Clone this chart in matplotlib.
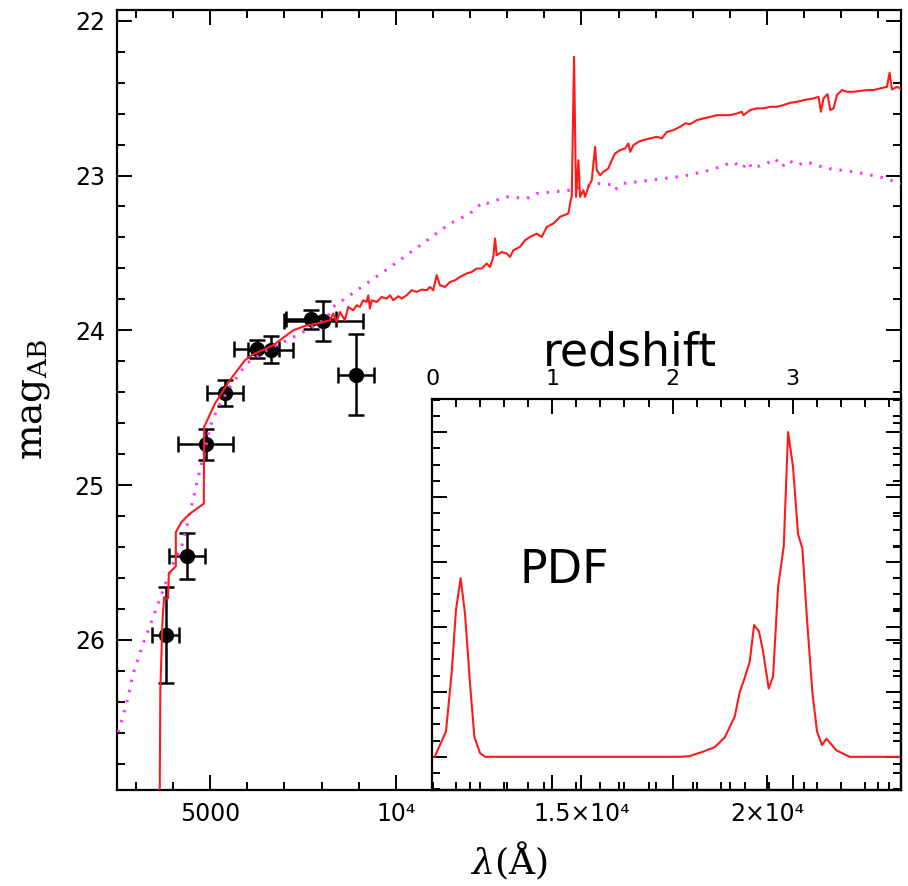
import matplotlib
matplotlib.use("Agg")
import matplotlib.pyplot as plt
from matplotlib.ticker import MultipleLocator, FixedLocator

plt.rcParams['font.family'] = ['DejaVu Sans']
plt.rcParams['mathtext.fontset'] = 'dejavuserif'

# ---------------- data ----------------
# photometric points
phot_lam = [3798, 4364, 4876, 5396, 6250, 6628, 7706, 8045, 8927]
phot_mag = [25.97, 25.46, 24.735, 24.405, 24.12, 24.125, 23.93, 23.94, 24.286]
phot_lam_err = [364, 485, 733, 493, 604, 608, 674, 1062, 480]
phot_mag_err = [0.31, 0.149, 0.10, 0.083, 0.06, 0.085, 0.06, 0.127, 0.26]

# best-fit template (red)
sed1_lam = [3640, 3658, 3717, 3760, 3798, 3868, 3887, 3960, 4076, 4076, 4229, 4453,
            4830, 4838, 5127, 5531, 5935, 6159, 6698, 7237, 7598, 7956, 8226,
            8315, 8406, 8495, 8630, 8719, 8854, 8945, 9034, 9123, 9215, 9258, 9304,
            9350, 9485, 9619, 9754, 9843, 9932, 10067, 10158, 10293, 10428, 10562,
            10697, 10832, 10921, 11010, 11102, 11190, 11325, 11460, 11595, 11729,
            11910, 12045, 12179, 12314, 12449, 12538, 12627, 12673, 12718, 12853,
            12988, 13077, 13166, 13346, 13481, 13616, 13796, 13931, 14066, 14244,
            14424, 14648, 14713, 14739, 14801, 14855, 14918, 14963, 15052, 15098,
            15187, 15279, 15368, 15413, 15502, 15591, 15726, 15818, 15907, 16041,
            16176, 16265, 16311, 16400, 16535, 16669, 16850, 17031, 17165, 17300,
            17478, 17658, 17793, 17928, 18109, 18286, 18467, 18647, 18825, 19006,
            19186, 19321, 19364, 19544, 19725, 19903, 20084, 20264, 20442, 20623,
            20803, 20981, 21251, 21386, 21450, 21520, 21628, 21701, 21790, 21882,
            22016, 22151, 22329, 22510, 22690, 22868, 23048, 23229, 23299, 23364,
            23498, 23633]
sed1_mag = [27.1, 26.328, 25.875, 25.724, 25.735, 25.731, 25.573, 25.552, 25.526,
            25.304, 25.239, 25.185, 25.120, 24.625, 24.474, 24.323, 24.194, 24.155,
            24.097, 24.0, 23.968, 23.953, 23.935,
            23.892, 23.946, 23.882, 23.935, 23.849, 23.871, 23.838, 23.849, 23.806,
            23.817, 23.774, 23.860, 23.806, 23.817, 23.785, 23.795, 23.774, 23.806,
            23.780, 23.795, 23.774, 23.741, 23.752, 23.737, 23.741, 23.720, 23.741,
            23.644, 23.709, 23.720, 23.688, 23.677, 23.655, 23.633, 23.623, 23.601,
            23.601, 23.569, 23.591, 23.526, 23.407, 23.515, 23.494, 23.504, 23.526,
            23.483, 23.461, 23.418, 23.397, 23.375, 23.397, 23.332, 23.310, 23.267,
            23.245, 23.159, 23.138, 22.233, 23.138, 22.901, 23.138, 23.095, 23.138,
            23.073, 23.030, 22.815, 22.965, 22.998, 22.976, 22.954, 22.901, 22.857,
            22.836, 22.825, 22.793, 22.847, 22.804, 22.782, 22.771, 22.760, 22.750,
            22.760, 22.718, 22.707, 22.685, 22.663, 22.668, 22.642, 22.631, 22.621,
            22.610, 22.610, 22.610, 22.599, 22.588, 22.610, 22.577, 22.566, 22.566,
            22.556, 22.556, 22.545, 22.530, 22.524, 22.513, 22.502, 22.491, 22.588,
            22.502, 22.474, 22.577, 22.566, 22.480, 22.448, 22.459, 22.459, 22.453,
            22.448, 22.448, 22.437, 22.427, 22.336, 22.444, 22.427, 22.444]

# second template (magenta dotted)
sed2_lam = [2521, 2747, 2925, 3194, 3464, 3733, 4003, 4229, 4453, 4722, 4838, 4992,
            5216, 5531, 5981, 6520, 7059, 7598, 8137, 8315, 9215, 10112, 11460,
            11999, 12357, 12449, 12988, 13527, 13796, 14693, 15052, 15502, 15861,
            15907, 16130, 16850, 17747, 18475, 19095, 19321, 19500, 19590, 19995,
            20218, 20398, 20577, 20803, 21072, 21342, 21611, 22329, 23048, 23606]
sed2_mag = [26.597, 26.414, 26.220, 26.026, 25.854, 25.681, 25.508, 25.401, 25.185,
            24.905, 24.797, 24.625, 24.496, 24.367, 24.215, 24.129, 24.065, 24.0,
            23.924, 23.849, 23.698, 23.547, 23.310, 23.245, 23.170, 23.180, 23.138,
            23.148, 23.116, 23.095, 23.073, 23.051, 23.062, 23.090, 23.051, 23.030,
            23.004, 22.965, 22.912, 22.954, 22.912, 22.954, 22.922, 22.890, 22.944,
            22.901, 22.933, 22.912, 22.933, 22.954, 22.976, 23.009, 23.051]

# redshift PDF (inset)
pdf_z = [0.02, 0.114, 0.161, 0.197, 0.236, 0.272, 0.314, 0.35, 0.397, 0.438, 2.06,
         2.14, 2.255, 2.352, 2.435, 2.518, 2.56, 2.60, 2.643, 2.679, 2.72, 2.754,
         2.801, 2.837, 2.879, 2.926, 2.962, 3.003, 3.045, 3.081, 3.12, 3.164,
         3.203, 3.245, 3.281, 3.364, 3.475, 3.9]
pdf_p = [0.0, 0.039, 0.129, 0.226, 0.275, 0.221, 0.113, 0.031, 0.006, 0.0, 0.0,
         0.001, 0.008, 0.015, 0.03, 0.062, 0.10, 0.121, 0.147, 0.203, 0.193, 0.162,
         0.105, 0.124, 0.262, 0.324, 0.50, 0.447, 0.343, 0.321, 0.211, 0.10,
         0.039, 0.018, 0.028, 0.01, 0.0, 0.0]

x_major = [5000, 10000, 15000, 20000]
x_major_labels = ["5000", "10\u2074", "1.5\u00d710\u2074", "2\u00d710\u2074"]
y_major = [22, 23, 24, 25, 26]
z_major = [0, 1, 2, 3]

# ---------------- figure ----------------
fig = plt.figure(figsize=(9.08, 8.86), dpi=100)
ax = fig.add_axes([0.1292, 0.1084, 0.8628, 0.8804])

ax.errorbar(phot_lam, phot_mag, xerr=phot_lam_err, yerr=phot_mag_err, fmt='o',
            color='black', markersize=10, elinewidth=1.8, capsize=5.5,
            capthick=1.8, zorder=2)
ax.plot(sed2_lam, sed2_mag, color='#ff33ff', lw=2.2, linestyle=(0, (0.8, 2.6)),
        zorder=3)
ax.plot(sed1_lam, sed1_mag, color='#ff1a1a', lw=1.5, zorder=4)

ax.set_xlim(2500, 23600)
ax.set_ylim(26.97, 21.93)
ax.xaxis.set_major_locator(FixedLocator(x_major))
ax.set_xticklabels(x_major_labels)
ax.xaxis.set_minor_locator(MultipleLocator(1000))
ax.set_yticks(y_major)
ax.set_yticklabels([str(v) for v in y_major])
ax.yaxis.set_minor_locator(MultipleLocator(0.2))
ax.tick_params(which='both', direction='in', top=True, right=True, width=1.4,
               labelsize=17)
ax.tick_params(which='major', length=11, pad=9)
ax.tick_params(which='minor', length=6)
for s in ax.spines.values():
    s.set_linewidth(1.6)

ax.set_xlabel(r'$\lambda(\mathrm{\AA})$', fontsize=26)
ax.xaxis.set_label_coords(0.5, -0.064)
ax.set_ylabel(r'$\mathrm{mag}_{\mathrm{AB}}$', fontsize=27)
ax.yaxis.set_label_coords(-0.083, 0.5)

# ---------------- inset ----------------
ins = fig.add_axes([0.4761, 0.1084, 0.5159, 0.4413])
ins.patch.set_alpha(0.0)
ins.plot(pdf_z, pdf_p, color='#ff1a1a', lw=1.5)
ins.set_xlim(0, 3.9)
ins.set_ylim(-0.051, 0.551)
ins.set_xticks(z_major)
ins.set_xticklabels([str(v) for v in z_major])
ins.xaxis.set_minor_locator(MultipleLocator(0.2))
ins.yaxis.set_major_locator(MultipleLocator(0.1))
ins.yaxis.set_minor_locator(MultipleLocator(0.025))
ins.tick_params(which='both', direction='in', top=True, bottom=True, left=True,
                right=True, labeltop=True, labelbottom=False, labelleft=False,
                width=1.4, labelsize=16)
ins.tick_params(which='major', length=11, pad=7)
ins.tick_params(which='minor', length=5.5)
for s in ins.spines.values():
    s.set_linewidth(1.6)

fig.text(0.598, 0.5875, 'redshift', fontsize=33, ha='left', va='baseline')
fig.text(0.5716, 0.3416, 'PDF', fontsize=33, ha='left', va='baseline')

fig.savefig('out.png', dpi=100)
